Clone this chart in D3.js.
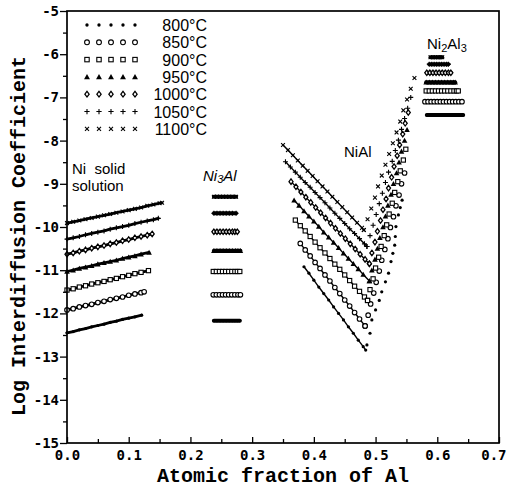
<!DOCTYPE html>
<html><head><meta charset="utf-8">
<script src="https://cdn.jsdelivr.net/npm/d3@7"></script>
<style>body{margin:0;background:#fff}svg{display:block}</style>
</head><body><svg id="c" width="507" height="489"></svg>
<script>
// ---------- data ----------
const temperatures = ["800°C","850°C","900°C","950°C","1000°C","1050°C","1100°C"];
const xTicks = [0.0,0.1,0.2,0.3,0.4,0.5,0.6,0.7];
const xMinorTicks = [0.05,0.15,0.25,0.35,0.45,0.55,0.65];
const yTicks = [-5,-6,-7,-8,-9,-10,-11,-12,-13,-14,-15];
const yMinorTicks = [-5.5,-6.5,-7.5,-8.5,-9.5,-10.5,-11.5,-12.5,-13.5,-14.5];

// Ni solid solution
const ss800  = [[0,-12.45],[0.01,-12.42],[0.02,-12.38],[0.03,-12.35],[0.04,-12.31],[0.05,-12.28],[0.06,-12.25],[0.07,-12.21],[0.08,-12.18],[0.09,-12.14],[0.10,-12.11],[0.11,-12.08],[0.121,-12.04]];
const ss850  = [[0,-11.92],[0.01,-11.89],[0.02,-11.85],[0.03,-11.82],[0.04,-11.79],[0.05,-11.75],[0.06,-11.72],[0.07,-11.68],[0.08,-11.65],[0.09,-11.62],[0.10,-11.58],[0.11,-11.55],[0.12,-11.52],[0.125,-11.50]];
const ss900  = [[0,-11.46],[0.01,-11.43],[0.02,-11.39],[0.03,-11.36],[0.04,-11.32],[0.05,-11.29],[0.06,-11.26],[0.07,-11.22],[0.08,-11.19],[0.09,-11.15],[0.10,-11.12],[0.11,-11.08],[0.12,-11.05],[0.132,-11.01]];
const ss950  = [[0,-11.03],[0.01,-11.00],[0.02,-10.96],[0.03,-10.93],[0.04,-10.90],[0.05,-10.86],[0.06,-10.83],[0.07,-10.80],[0.08,-10.77],[0.09,-10.73],[0.10,-10.70],[0.11,-10.67],[0.12,-10.63],[0.133,-10.59]];
const ss1000 = [[0,-10.63],[0.01,-10.60],[0.02,-10.56],[0.03,-10.53],[0.04,-10.49],[0.05,-10.46],[0.06,-10.43],[0.07,-10.39],[0.08,-10.36],[0.09,-10.32],[0.10,-10.29],[0.11,-10.25],[0.12,-10.22],[0.13,-10.19],[0.138,-10.16]];
const ss1050 = [[0,-10.28],[0.01,-10.25],[0.02,-10.22],[0.03,-10.18],[0.04,-10.15],[0.05,-10.12],[0.06,-10.09],[0.07,-10.05],[0.08,-10.02],[0.09,-9.99],[0.10,-9.96],[0.11,-9.92],[0.12,-9.89],[0.13,-9.86],[0.14,-9.83],[0.148,-9.80]];
const ss1100 = [[0,-9.91],[0.01,-9.88],[0.02,-9.85],[0.03,-9.82],[0.04,-9.79],[0.05,-9.76],[0.06,-9.73],[0.07,-9.70],[0.08,-9.67],[0.09,-9.64],[0.10,-9.61],[0.11,-9.58],[0.12,-9.55],[0.13,-9.51],[0.14,-9.48],[0.15,-9.45],[0.154,-9.44]];

// Ni3Al
const ni3al800  = [[0.238,-12.17],[0.243,-12.17],[0.248,-12.17],[0.253,-12.17],[0.258,-12.17],[0.263,-12.17],[0.268,-12.17],[0.272,-12.17],[0.276,-12.17],[0.280,-12.17]];
const ni3al850  = [[0.237,-11.57],[0.242,-11.57],[0.247,-11.57],[0.252,-11.57],[0.257,-11.57],[0.262,-11.57],[0.267,-11.57],[0.272,-11.57],[0.277,-11.57],[0.281,-11.57]];
const ni3al900  = [[0.237,-11.03],[0.242,-11.03],[0.247,-11.03],[0.252,-11.03],[0.257,-11.03],[0.262,-11.03],[0.267,-11.03],[0.272,-11.03],[0.276,-11.03],[0.280,-11.03]];
const ni3al950  = [[0.238,-10.55],[0.243,-10.55],[0.248,-10.55],[0.253,-10.55],[0.258,-10.55],[0.263,-10.55],[0.268,-10.55],[0.273,-10.55],[0.277,-10.55],[0.281,-10.55]];
const ni3al1000 = [[0.238,-10.11],[0.243,-10.11],[0.248,-10.11],[0.253,-10.11],[0.258,-10.11],[0.263,-10.11],[0.268,-10.11],[0.272,-10.11],[0.276,-10.11]];
const ni3al1050 = [[0.238,-9.68],[0.243,-9.68],[0.248,-9.68],[0.253,-9.68],[0.258,-9.68],[0.263,-9.68],[0.268,-9.68],[0.274,-9.68]];
const ni3al1100 = [[0.238,-9.30],[0.243,-9.30],[0.248,-9.30],[0.253,-9.30],[0.258,-9.30],[0.263,-9.30],[0.268,-9.30],[0.274,-9.30]];

// NiAl, Ni-rich (left) branch
const nialL800  = [[0.384,-10.92],[0.392,-11.07],[0.400,-11.23],[0.408,-11.39],[0.416,-11.54],[0.424,-11.69],[0.432,-11.85],[0.440,-12.00],[0.448,-12.15],[0.456,-12.31],[0.464,-12.46],[0.472,-12.62],[0.480,-12.77],[0.484,-12.85]];
const nialL850  = [[0.378,-10.38],[0.386,-10.53],[0.394,-10.67],[0.402,-10.82],[0.410,-10.96],[0.418,-11.11],[0.426,-11.25],[0.434,-11.40],[0.442,-11.54],[0.450,-11.69],[0.458,-11.83],[0.466,-11.98],[0.474,-12.13],[0.483,-12.29]];
const nialL900  = [[0.370,-9.84],[0.378,-9.97],[0.386,-10.09],[0.394,-10.22],[0.402,-10.35],[0.410,-10.48],[0.418,-10.60],[0.426,-10.73],[0.434,-10.86],[0.442,-10.98],[0.450,-11.11],[0.458,-11.24],[0.466,-11.37],[0.474,-11.49],[0.482,-11.62],[0.487,-11.70]];
const nialL950  = [[0.368,-9.38],[0.376,-9.50],[0.384,-9.63],[0.392,-9.75],[0.400,-9.87],[0.408,-9.99],[0.416,-10.12],[0.424,-10.24],[0.432,-10.36],[0.440,-10.48],[0.448,-10.61],[0.456,-10.73],[0.464,-10.85],[0.472,-10.97],[0.480,-11.10],[0.490,-11.25]];
const nialL1000 = [[0.363,-8.95],[0.371,-9.07],[0.379,-9.19],[0.387,-9.31],[0.395,-9.43],[0.403,-9.55],[0.411,-9.67],[0.419,-9.79],[0.427,-9.91],[0.435,-10.03],[0.443,-10.15],[0.451,-10.27],[0.459,-10.39],[0.467,-10.51],[0.475,-10.63],[0.483,-10.75],[0.490,-10.85]];
const nialL1050 = [[0.354,-8.49],[0.362,-8.61],[0.370,-8.73],[0.378,-8.85],[0.386,-8.97],[0.394,-9.08],[0.402,-9.20],[0.410,-9.32],[0.418,-9.44],[0.426,-9.56],[0.434,-9.68],[0.442,-9.80],[0.450,-9.92],[0.458,-10.04],[0.466,-10.15],[0.474,-10.27],[0.482,-10.39],[0.486,-10.45]];
const nialL1100 = [[0.350,-8.10],[0.358,-8.22],[0.366,-8.34],[0.374,-8.46],[0.382,-8.58],[0.390,-8.70],[0.398,-8.82],[0.406,-8.94],[0.414,-9.06],[0.422,-9.18],[0.430,-9.30],[0.438,-9.42],[0.446,-9.54],[0.454,-9.66],[0.462,-9.78],[0.470,-9.90],[0.478,-10.02],[0.481,-10.07]];

// NiAl, Al-rich (right) branch
const nialR800  = [[0.486,-12.73],[0.491,-12.46],[0.494,-12.15],[0.500,-11.92],[0.506,-11.70],[0.510,-11.50],[0.516,-11.27],[0.521,-11.07],[0.525,-10.80],[0.528,-10.61],[0.531,-10.42],[0.532,-10.22],[0.533,-9.99],[0.537,-9.72],[0.540,-9.55],[0.543,-9.38]];
const nialR850  = [[0.483,-12.29],[0.488,-12.04],[0.492,-11.78],[0.497,-11.53],[0.501,-11.28],[0.506,-11.02],[0.510,-10.77],[0.515,-10.52],[0.520,-10.27],[0.524,-10.01],[0.529,-9.76],[0.533,-9.51],[0.538,-9.26],[0.542,-9.00],[0.547,-8.75]];
const nialR900  = [[0.487,-11.70],[0.491,-11.45],[0.496,-11.20],[0.500,-10.95],[0.505,-10.70],[0.509,-10.45],[0.514,-10.20],[0.518,-9.95],[0.522,-9.70],[0.527,-9.45],[0.531,-9.20],[0.536,-8.95],[0.540,-8.70],[0.545,-8.45],[0.549,-8.20]];
const nialR950  = [[0.490,-11.25],[0.494,-11.00],[0.499,-10.75],[0.503,-10.50],[0.507,-10.25],[0.512,-10.00],[0.516,-9.75],[0.520,-9.50],[0.525,-9.25],[0.529,-9.00],[0.534,-8.75],[0.538,-8.50],[0.542,-8.25],[0.547,-8.00],[0.551,-7.75]];
const nialR1000 = [[0.490,-10.85],[0.494,-10.60],[0.499,-10.35],[0.503,-10.10],[0.508,-9.85],[0.512,-9.60],[0.517,-9.35],[0.521,-9.10],[0.526,-8.85],[0.530,-8.60],[0.535,-8.35],[0.539,-8.10],[0.544,-7.85],[0.548,-7.60],[0.553,-7.35]];
const nialR1050 = [[0.486,-10.45],[0.491,-10.20],[0.496,-9.96],[0.501,-9.71],[0.506,-9.46],[0.511,-9.22],[0.516,-8.97],[0.521,-8.73],[0.527,-8.48],[0.532,-8.23],[0.537,-7.99],[0.542,-7.74],[0.547,-7.49],[0.552,-7.25],[0.557,-7.00]];
const nialR1100 = [[0.481,-10.07],[0.487,-9.82],[0.493,-9.57],[0.499,-9.32],[0.504,-9.06],[0.510,-8.81],[0.516,-8.56],[0.522,-8.31],[0.528,-8.06],[0.534,-7.81],[0.540,-7.56],[0.545,-7.30],[0.551,-7.05],[0.557,-6.80],[0.563,-6.55]];

// Ni2Al3
const ni2al3_800  = [[0.583,-7.41],[0.588,-7.41],[0.593,-7.41],[0.598,-7.41],[0.603,-7.41],[0.608,-7.41],[0.613,-7.41],[0.618,-7.41],[0.623,-7.41],[0.628,-7.41],[0.633,-7.41],[0.638,-7.41],[0.642,-7.41]];
const ni2al3_850  = [[0.580,-7.10],[0.585,-7.10],[0.590,-7.10],[0.595,-7.10],[0.600,-7.10],[0.605,-7.10],[0.610,-7.10],[0.615,-7.10],[0.620,-7.10],[0.625,-7.10],[0.630,-7.10],[0.635,-7.10],[0.640,-7.10]];
const ni2al3_900  = [[0.582,-6.85],[0.587,-6.85],[0.592,-6.85],[0.597,-6.85],[0.602,-6.85],[0.607,-6.85],[0.612,-6.85],[0.617,-6.85],[0.622,-6.85],[0.627,-6.85],[0.631,-6.85],[0.634,-6.85]];
const ni2al3_950  = [[0.582,-6.65],[0.587,-6.65],[0.592,-6.65],[0.597,-6.65],[0.602,-6.65],[0.607,-6.65],[0.612,-6.65],[0.617,-6.65],[0.622,-6.65],[0.626,-6.65],[0.629,-6.65]];
const ni2al3_1000 = [[0.583,-6.43],[0.588,-6.43],[0.593,-6.43],[0.598,-6.43],[0.603,-6.43],[0.608,-6.43],[0.613,-6.43],[0.618,-6.43],[0.622,-6.43]];
const ni2al3_1050 = [[0.587,-6.23],[0.591,-6.23],[0.595,-6.23],[0.599,-6.23],[0.603,-6.23],[0.607,-6.23],[0.611,-6.23],[0.615,-6.23],[0.618,-6.23]];
const ni2al3_1100 = [[0.589,-6.07],[0.593,-6.07],[0.597,-6.07],[0.601,-6.07],[0.605,-6.07],[0.608,-6.07]];

// ---------- grouping ----------
const phases = [
  {series:[ss800,ss850,ss900,ss950,ss1000,ss1050,ss1100], lw:2.8},
  {series:[ni3al800,ni3al850,ni3al900,ni3al950,ni3al1000,ni3al1050,ni3al1100], lw:4},
  {series:[nialL800,nialL850,nialL900,nialL950,nialL1000,nialL1050,nialL1100], lw:1.4},
  {series:[ni2al3_800,ni2al3_850,ni2al3_900,ni2al3_950,ni2al3_1000,ni2al3_1050,ni2al3_1100], lw:4}
];
const sparse = [nialR800,nialR850,nialR900,nialR950,nialR1000,nialR1050,nialR1100];

// ---------- styles ----------
const markerTypes = ["dot","circle","square","triangle","diamond","plus","cross"];

const svg = d3.select("#c");
const x = d3.scaleLinear().domain([0,0.7]).range([67,499]);
const y = d3.scaleLinear().domain([-15,-5]).range([443,11]);

function marker(g, type, cx, cy, s=1){
  const sw = 1.1;
  if(type==="dot"){
    g.append("circle").attr("cx",cx).attr("cy",cy).attr("r",1.6*s).attr("fill","#000");
  } else if(type==="circle"){
    g.append("circle").attr("cx",cx).attr("cy",cy).attr("r",2.3*s).attr("fill","#fff").attr("stroke","#000").attr("stroke-width",sw);
  } else if(type==="square"){
    const h=2.1*s;
    g.append("rect").attr("x",cx-h).attr("y",cy-h).attr("width",2*h).attr("height",2*h).attr("fill","#fff").attr("stroke","#000").attr("stroke-width",sw);
  } else if(type==="triangle"){
    const h=2.8*s;
    g.append("path").attr("d",`M${cx},${cy-h}L${cx+h},${cy+h*0.8}L${cx-h},${cy+h*0.8}Z`).attr("fill","#000");
  } else if(type==="diamond"){
    const h=2.7*s;
    g.append("path").attr("d",`M${cx},${cy-h}L${cx+h*0.75},${cy}L${cx},${cy+h}L${cx-h*0.75},${cy}Z`).attr("fill","#fff").attr("stroke","#000").attr("stroke-width",1.3);
  } else if(type==="plus"){
    const h=2.5*s;
    g.append("path").attr("d",`M${cx-h},${cy}H${cx+h}M${cx},${cy-h}V${cy+h}`).attr("stroke","#000").attr("stroke-width",sw).attr("fill","none");
  } else if(type==="cross"){
    const h=1.9*s;
    g.append("path").attr("d",`M${cx-h},${cy-h}L${cx+h},${cy+h}M${cx-h},${cy+h}L${cx+h},${cy-h}`).attr("stroke","#000").attr("stroke-width",sw).attr("fill","none");
  }
}

const line = d3.line().x(d=>x(d[0])).y(d=>y(d[1]));
const plot = svg.append("g");

phases.forEach(ph=>{
  ph.series.forEach((series,i)=>{
    plot.append("path").attr("d",line(series)).attr("fill","none").attr("stroke","#000")
      .attr("stroke-width",ph.lw).attr("stroke-linecap","round");
    series.forEach(d=>marker(plot, markerTypes[i], x(d[0]), y(d[1])));
  });
});
sparse.forEach((series,i)=>{
  series.forEach(d=>marker(plot, markerTypes[i], x(d[0]), y(d[1])));
});

// ---------- axes ----------
const tickFont = "'DejaVu Sans Mono', monospace";
const yAxis = svg.append("g").attr("transform",`translate(${x(0)},0)`)
  .call(d3.axisLeft(y).tickValues(yTicks).tickSize(7).tickPadding(1).tickFormat(d=>"-"+Math.abs(d)));
const yMinor = svg.append("g").attr("transform",`translate(${x(0)},0)`)
  .call(d3.axisLeft(y).tickValues(yMinorTicks).tickSize(4).tickFormat(""));
const xAxis = svg.append("g").attr("transform",`translate(0,${y(-15)})`)
  .call(d3.axisBottom(x).tickValues(xTicks).tickSizeInner(-6).tickSizeOuter(0).tickPadding(7).tickFormat(d3.format(".1f")));
const xMinor = svg.append("g").attr("transform",`translate(0,${y(-15)})`)
  .call(d3.axisBottom(x).tickValues(xMinorTicks).tickSizeInner(-4).tickSizeOuter(0).tickFormat(""));
[yAxis,yMinor,xAxis,xMinor].forEach(a=>{
  a.select(".domain").remove();
  a.selectAll(".tick line").attr("stroke","#000").attr("stroke-width",1.3);
  a.selectAll(".tick text").attr("font-family",tickFont).attr("font-size",14).attr("font-weight","bold").attr("fill","#000");
});
xAxis.selectAll(".tick text").filter(d=>d===0.7).attr("text-anchor","end").attr("dx",7);

// frame
svg.append("rect").attr("x",x(0)).attr("y",y(-5)).attr("width",x(0.7)-x(0)).attr("height",y(-15)-y(-5))
  .attr("fill","none").attr("stroke","#000").attr("stroke-width",1.7);

// axis titles
const titleFont = "'Liberation Mono', 'Courier New', monospace";
svg.append("text").attr("x",(x(0)+x(0.7))/2).attr("y",482).attr("text-anchor","middle")
  .attr("font-family",titleFont).attr("font-size",20).attr("font-weight","bold").text("Atomic fraction of Al");
svg.append("text").attr("transform",`translate(25,236) rotate(-90)`).attr("text-anchor","middle")
  .attr("font-family",titleFont).attr("font-size",20).attr("font-weight","bold").text("Log Interdiffusion Coefficient");

// legend
const legFont = "'Liberation Sans', Arial, sans-serif";
const leg = svg.append("g");
temperatures.forEach((t,i)=>{
  const ry = 25 + i*17.3;
  for(let k=0;k<5;k++) marker(leg, markerTypes[i], 87 + k*12, ry, 1.05);
  leg.append("text").attr("x",207).attr("y",ry+6).attr("text-anchor","end")
    .attr("font-family",legFont).attr("font-size",16).text(t);
});

// phase labels
const lab = svg.append("g").attr("font-family",legFont).attr("fill","#000");
lab.append("text").attr("x",72).attr("y",174).attr("font-size",15).attr("xml:space","preserve").text("Ni  solid");
lab.append("text").attr("x",72).attr("y",191).attr("font-size",15).text("solution");
const t3 = lab.append("text").attr("x",203).attr("y",181).attr("font-size",15).attr("font-style","italic");
t3.append("tspan").text("Ni");
t3.append("tspan").attr("font-size",11).attr("dy",2).text("3");
t3.append("tspan").attr("dy",-2).text("Al");
lab.append("text").attr("x",344).attr("y",157).attr("font-size",15).text("NiAl");
const t23 = lab.append("text").attr("x",427).attr("y",49).attr("font-size",15);
t23.append("tspan").text("Ni");
t23.append("tspan").attr("font-size",11).attr("dy",3).text("2");
t23.append("tspan").attr("dy",-3).text("Al");
t23.append("tspan").attr("font-size",11).attr("dy",3).text("3");
</script></body></html>
